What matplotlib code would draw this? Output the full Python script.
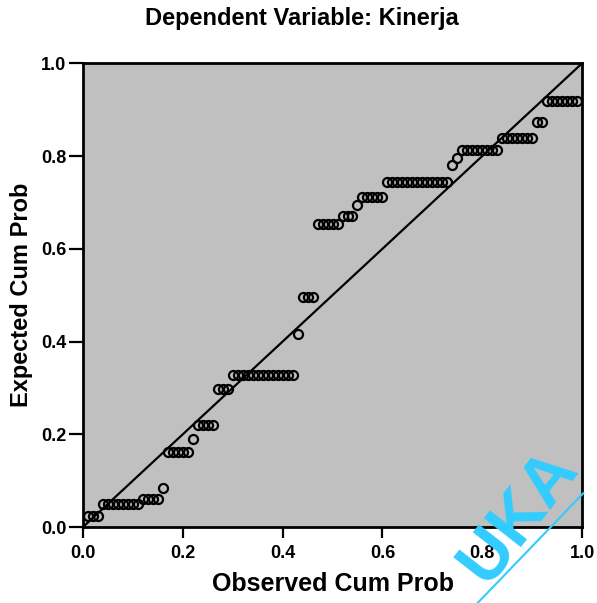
import matplotlib.pyplot as plt

plt.rcParams['font.family'] = ['Liberation Sans', 'DejaVu Sans']

observado = [0.01, 0.02, 0.03,
             0.04, 0.05, 0.06, 0.07, 0.08, 0.09, 0.10, 0.11,
             0.12, 0.13, 0.14, 0.15,
             0.16,
             0.17, 0.18, 0.19, 0.20, 0.21,
             0.22,
             0.23, 0.24, 0.25, 0.26,
             0.27, 0.28, 0.29,
             0.30, 0.31, 0.32, 0.33, 0.34, 0.35, 0.36, 0.37, 0.38, 0.39, 0.40, 0.41, 0.42,
             0.43,
             0.44, 0.45, 0.46,
             0.47, 0.48, 0.49, 0.50, 0.51,
             0.52, 0.53, 0.54,
             0.55,
             0.56, 0.57, 0.58, 0.59, 0.60,
             0.61, 0.62, 0.63, 0.64, 0.65, 0.66, 0.67, 0.68, 0.69, 0.70, 0.71, 0.72, 0.73,
             0.74,
             0.75,
             0.76, 0.77, 0.78, 0.79, 0.80, 0.81, 0.82, 0.83,
             0.84, 0.85, 0.86, 0.87, 0.88, 0.89, 0.90,
             0.91, 0.92,
             0.93, 0.94, 0.95, 0.96, 0.97, 0.98, 0.99]

esperado = [0.024, 0.024, 0.024,
            0.05, 0.05, 0.05, 0.05, 0.05, 0.05, 0.05, 0.05,
            0.06, 0.06, 0.06, 0.06,
            0.084,
            0.162, 0.162, 0.162, 0.162, 0.162,
            0.19,
            0.22, 0.22, 0.22, 0.22,
            0.297, 0.297, 0.297,
            0.328, 0.328, 0.328, 0.328, 0.328, 0.328, 0.328, 0.328, 0.328, 0.328, 0.328, 0.328, 0.328,
            0.416,
            0.496, 0.496, 0.496,
            0.653, 0.653, 0.653, 0.653, 0.653,
            0.67, 0.67, 0.67,
            0.694,
            0.711, 0.711, 0.711, 0.711, 0.711,
            0.744, 0.744, 0.744, 0.744, 0.744, 0.744, 0.744, 0.744, 0.744, 0.744, 0.744, 0.744, 0.744,
            0.78,
            0.795,
            0.812, 0.812, 0.812, 0.812, 0.812, 0.812, 0.812, 0.812,
            0.838, 0.838, 0.838, 0.838, 0.838, 0.838, 0.838,
            0.873, 0.873,
            0.918, 0.918, 0.918, 0.918, 0.918, 0.918, 0.918]

ticks = [0.0, 0.2, 0.4, 0.6, 0.8, 1.0]
tick_labels = ["0.0", "0.2", "0.4", "0.6", "0.8", "1.0"]

fig = plt.figure(figsize=(5.97, 6.03), dpi=100)
ax = fig.add_axes([0.139, 0.126, 0.836, 0.769])
ax.set_facecolor('#c0c0c0')

# linha de referencia
ax.plot([0, 1], [0, 1], color='black', linewidth=1.6)

ax.plot(observado, esperado, linestyle='none', marker='o', markersize=6.5,
        markerfacecolor='none', markeredgecolor='black', markeredgewidth=1.6)

ax.set_xlim(0, 1)
ax.set_ylim(0, 1)
ax.set_xticks(ticks)
ax.set_xticklabels(tick_labels, fontsize=13, fontweight='bold')
ax.set_yticks(ticks)
ax.set_yticklabels(tick_labels, fontsize=13, fontweight='bold')
ax.tick_params(axis='x', direction='out', length=8, width=1.6, pad=5)
ax.tick_params(axis='y', direction='out', length=10, width=1.6, pad=2)
for s in ax.spines.values():
    s.set_linewidth(2)

ax.set_xlabel("Observed Cum Prob", fontsize=18, fontweight='bold', labelpad=7)
ax.set_ylabel("Expected Cum Prob", fontsize=17, fontweight='bold', labelpad=6)

fig.text(0.506, 0.97, "Dependent Variable: Kinerja", fontsize=17,
         fontweight='bold', ha='center', va='center')

# marca d'agua azul
fig.text(0.868, 0.145, "UKA", fontsize=50, fontweight='bold', color='#33ccff',
         rotation=52, ha='center', va='center')
fig.add_artist(plt.Line2D([0.80, 0.977], [0.0, 0.182], color='#33ccff',
                          linewidth=1.5, transform=fig.transFigure))

plt.savefig("out.png", dpi=100)
